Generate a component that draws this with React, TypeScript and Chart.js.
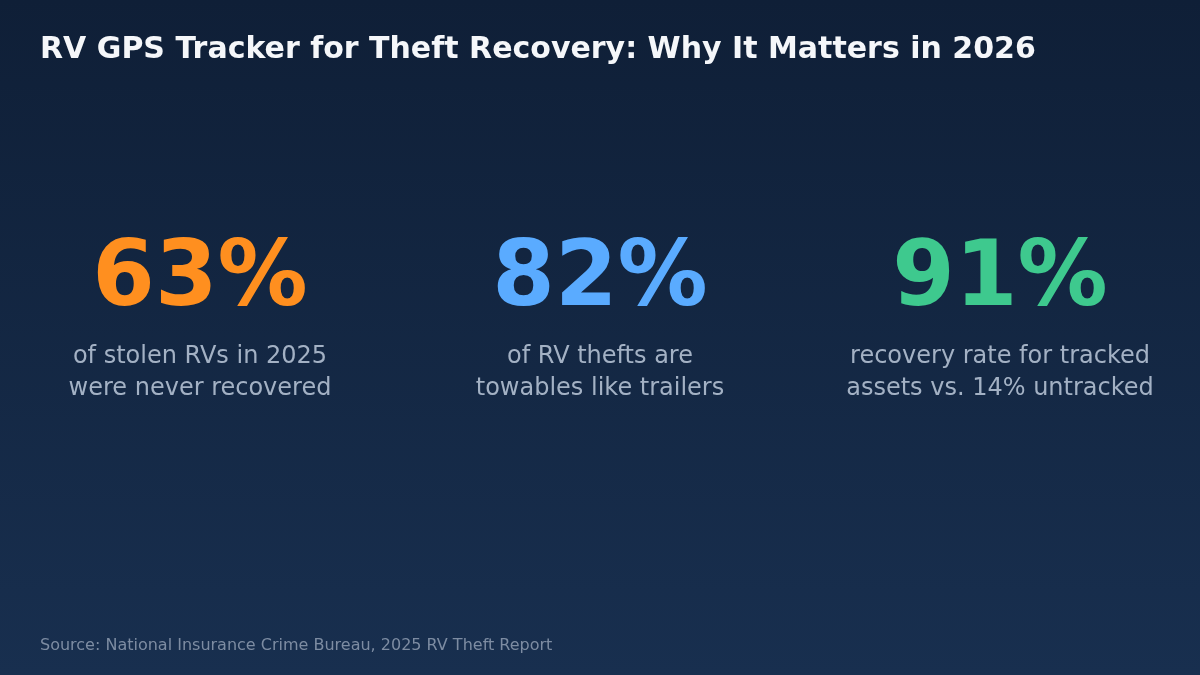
import { useEffect, useRef } from "react";
import { Chart, registerables } from "chart.js";

Chart.register(...registerables);

const categories = ["Never recovered", "Towables", "Tracked recovery"];
const percentValues = [63, 82, 91];
const statColors = ["#ff8f1f", "#5aabff", "#3ec98e"];
const captionLines = [
  ["of stolen RVs in 2025", "were never recovered"],
  ["of RV thefts are", "towables like trailers"],
  ["recovery rate for tracked", "assets vs. 14% untracked"],
];
const titleText = "RV GPS Tracker for Theft Recovery: Why It Matters in 2026";
const sourceText = "Source: National Insurance Crime Bureau, 2025 RV Theft Report";

const FONT = "'DejaVu Sans', 'Noto Sans', sans-serif";

// background gradient + all the stat text, anchored on the category scale
const statPlugin: any = {
  id: "statText",
  beforeDraw(chart: any) {
    const { ctx, width, height } = chart;
    const g = ctx.createLinearGradient(0, 0, 0, height);
    g.addColorStop(0, "#0f1f37");
    g.addColorStop(1, "#182f4f");
    ctx.save();
    ctx.fillStyle = g;
    ctx.fillRect(0, 0, width, height);
    ctx.restore();
  },
  afterDraw(chart: any) {
    const ctx = chart.ctx;
    const meta = chart.getDatasetMeta(0);
    ctx.save();
    ctx.textBaseline = "alphabetic";

    ctx.textAlign = "left";
    ctx.fillStyle = "#f5f7fa";
    ctx.font = `bold 30px ${FONT}`;
    ctx.fillText(titleText, 40, 58);

    meta.data.forEach((el: any, i: number) => {
      ctx.textAlign = "center";
      ctx.fillStyle = statColors[i];
      ctx.font = `bold 90px ${FONT}`;
      ctx.fillText(`${percentValues[i]}%`, el.x, 305);
      ctx.fillStyle = "#a3b1c4";
      ctx.font = `24px ${FONT}`;
      captionLines[i].forEach((line, j) => {
        ctx.fillText(line, el.x, 363 + j * 32);
      });
    });

    ctx.textAlign = "left";
    ctx.fillStyle = "#7d8ca2";
    ctx.font = `16px ${FONT}`;
    ctx.fillText(sourceText, 40, 650);
    ctx.restore();
  },
};

const App = () => {
  const canvasRef = useRef<HTMLCanvasElement>(null);

  useEffect(() => {
    document.body.style.margin = "0";
    const config: any = {
      type: "bar",
      data: {
        labels: categories,
        datasets: [
          {
            data: percentValues,
            backgroundColor: "rgba(0,0,0,0)",
            borderWidth: 0,
          },
        ],
      },
      options: {
        responsive: false,
        animation: false,
        layout: { padding: 0 },
        plugins: {
          legend: { display: false },
          tooltip: { enabled: false },
        },
        scales: {
          x: { display: false, offset: true },
          y: { display: false, min: 0, max: 100 },
        },
      },
      plugins: [statPlugin],
    };
    const chart = new Chart(canvasRef.current as HTMLCanvasElement, config);
    return () => {
      chart.destroy();
    };
  }, []);

  return (
    <canvas
      ref={canvasRef}
      width={1200}
      height={675}
      style={{ display: "block", width: 1200, height: 675 }}
    />
  );
};

export default App;
